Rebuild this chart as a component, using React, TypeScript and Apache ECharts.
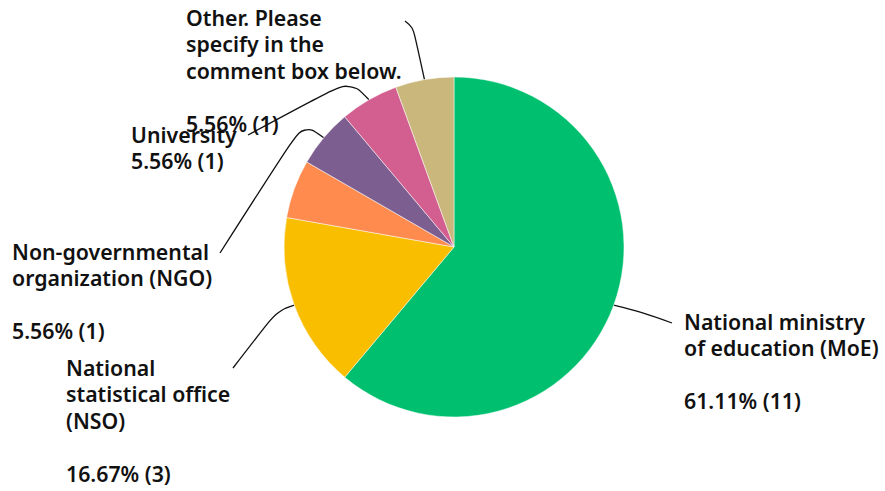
import React, { useEffect, useRef } from "react";
import * as echarts from "echarts";

// Data (counts of responses)
const categories = [
  "National ministry of education (MoE)",
  "National statistical office (NSO)",
  "",
  "Non-governmental organization (NGO)",
  "University",
  "Other. Please specify in the comment box below.",
];
const labelNameLines: string[][] = [
  ["National ministry", "of education (MoE)"],
  ["National", "statistical office", "(NSO)"],
  [],
  ["Non-governmental", "organization (NGO)"],
  ["University"],
  ["Other. Please", "specify in the", "comment box below."],
];
const labelGap = [true, true, false, true, false, true];
const counts = [11, 3, 1, 1, 1, 1];
const colors = ["#00BF6F", "#F9BE00", "#FF8B4F", "#7D5E90", "#D25F90", "#C9B77B"];

// Layout (label block top-left corners and leader-line bends)
const labelPos: (number[] | null)[] = [
  [684, 308],
  [66, 354],
  null,
  [12, 238],
  [131, 121],
  [186, 4],
];
const lineBend: (number[] | null)[] = [
  [642, 312],
  [277, 311],
  null,
  [303, 123],
  [350, 80],
  [413, 27],
];
const lineEnd: (number[] | null)[] = [
  [672, 323],
  [233, 368],
  null,
  [220, 253],
  [248, 135],
  [405, 21],
];

const total = counts.reduce((s, v) => s + v, 0);

export default function App() {
  const ref = useRef<HTMLDivElement>(null);
  useEffect(() => {
    if (!ref.current) return;
    const chart = echarts.init(ref.current, undefined, { renderer: "svg" });
    const data = counts.map((v, i) => {
      const item: any = { name: categories[i] || "—", value: v, itemStyle: { color: colors[i] } };
      if (!labelPos[i]) {
        item.label = { show: false };
        item.labelLine = { show: false };
      }
      return item;
    });
    chart.setOption({
      animation: false,
      backgroundColor: "#ffffff",
      series: [
        {
          type: "pie",
          center: [454, 247],
          radius: 170,
          startAngle: 90,
          clockwise: true,
          avoidLabelOverlap: false,
          itemStyle: { borderColor: "#ffffff", borderWidth: 0.5 },
          label: {
            show: true,
            position: "outside",
            color: "#111111",
            fontFamily: "Noto Sans",
            fontWeight: 600,
            fontSize: 21.3,
            lineHeight: 26.5,
            align: "left",
            formatter: (p: any) => {
              const i = p.dataIndex;
              const pct = ((p.value / total) * 100).toFixed(2) + "% (" + p.value + ")";
              return labelNameLines[i].join("\n") + (labelGap[i] ? "\n\n" : "\n") + pct;
            },
          },
          labelLine: {
            show: true,
            smooth: 0.4,
            lineStyle: { color: "#111111", width: 1.3 },
          },
          labelLayout: (params: any) => {
            const i = params.dataIndex;
            const pos = labelPos[i];
            if (!pos) return {};
            const a = params.labelLinePoints ? params.labelLinePoints[0] : null;
            const res: any = { x: pos[0], y: pos[1], align: "left", verticalAlign: "top" };
            if (a) res.labelLinePoints = [a, lineBend[i], lineEnd[i]];
            return res;
          },
          data,
        },
      ],
    });
    return () => chart.dispose();
  }, []);
  return (
    <div
      ref={ref}
      style={{ position: "fixed", left: 0, top: 0, width: 885, height: 491 }}
    />
  );
}
